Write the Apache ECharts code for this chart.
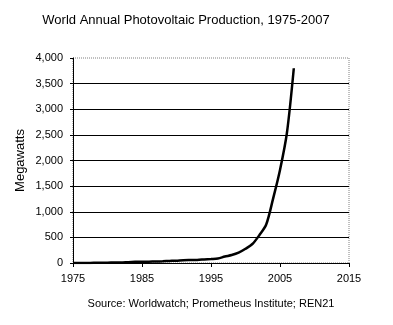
<!DOCTYPE html>
<html>
<head>
<meta charset="utf-8">
<script src="https://cdn.jsdelivr.net/npm/echarts@6/dist/echarts.min.js"></script>
<style>
html,body{margin:0;padding:0;background:#fff;}
#chart{width:393px;height:325px;}
</style>
</head>
<body>
<div id="chart"></div>
<script>
// Data
const years = [1975,1976,1977,1978,1979,1980,1981,1982,1983,1984,1985,1986,1987,1988,1989,1990,1991,1992,1993,1994,1995,1996,1997,1998,1999,2000,2001,2002,2003,2004,2005,2006,2007];
const megawatts = [2,2,2,3,4,7,8,9,17,22,23,26,29,34,40,46,55,58,60,69,78,89,126,155,201,277,371,542,750,1256,1815,2536,3800];
const xTickYears = [1975,1985,1995,2005,2015];
const titleText = 'World Annual Photovoltaic Production, 1975-2007';
const sourceText = 'Source: Worldwatch; Prometheus Institute; REN21';
const yName = 'Megawatts';

const FONT = '"Liberation Sans", Arial, sans-serif';
const chart = echarts.init(document.getElementById('chart'), null, {renderer:'canvas'});
const seriesData = years.map((y,i)=>[y, megawatts[i]]);

chart.setOption({
  animation:false,
  backgroundColor:'#ffffff',
  textStyle:{fontFamily:FONT},
  title:{
    text:titleText,
    left:181, top:9,
    textAlign:'center',
    textStyle:{fontFamily:FONT,fontSize:13,fontWeight:'normal',color:'#000'}
  },
  grid:{
    left:73, top:58, width:276, height:205,
    show:true, borderColor:'#808080', borderWidth:1, borderType:'dotted',
    containLabel:false
  },
  xAxis:{
    type:'value', min:1975, max:2015,
    name:sourceText, nameLocation:'middle', nameGap:35, nameMoveOverlap:false,
    nameTextStyle:{fontFamily:FONT,fontSize:11,color:'#000'},
    axisLine:{show:true,lineStyle:{color:'#000',width:1}},
    axisTick:{show:true,length:4,lineStyle:{color:'#000'},customValues:xTickYears},
    axisLabel:{color:'#000',fontFamily:FONT,fontSize:11,margin:10,customValues:xTickYears,formatter:v=>String(v)},
    splitLine:{show:false}
  },
  yAxis:{
    type:'value', min:0, max:4000, interval:500,
    name:yName, nameLocation:'middle', nameGap:46, nameRotate:90, nameMoveOverlap:false,
    nameTextStyle:{fontFamily:FONT,fontSize:13,color:'#000'},
    axisLine:{show:true,lineStyle:{color:'#000',width:1}},
    axisTick:{show:true,length:3,lineStyle:{color:'#000'}},
    axisLabel:{color:'#000',fontFamily:FONT,fontSize:11,margin:10,
      formatter:v=>v.toLocaleString('en-US')},
    splitLine:{show:true,showMinLine:false,showMaxLine:false,lineStyle:{color:'#000',width:1}}
  },
  series:[{
    type:'line',
    data:seriesData,
    smooth:0.3,
    showSymbol:false,
    symbol:'none',
    lineStyle:{color:'#000',width:2.5},
    z:5
  }]
});
</script>
</body>
</html>
